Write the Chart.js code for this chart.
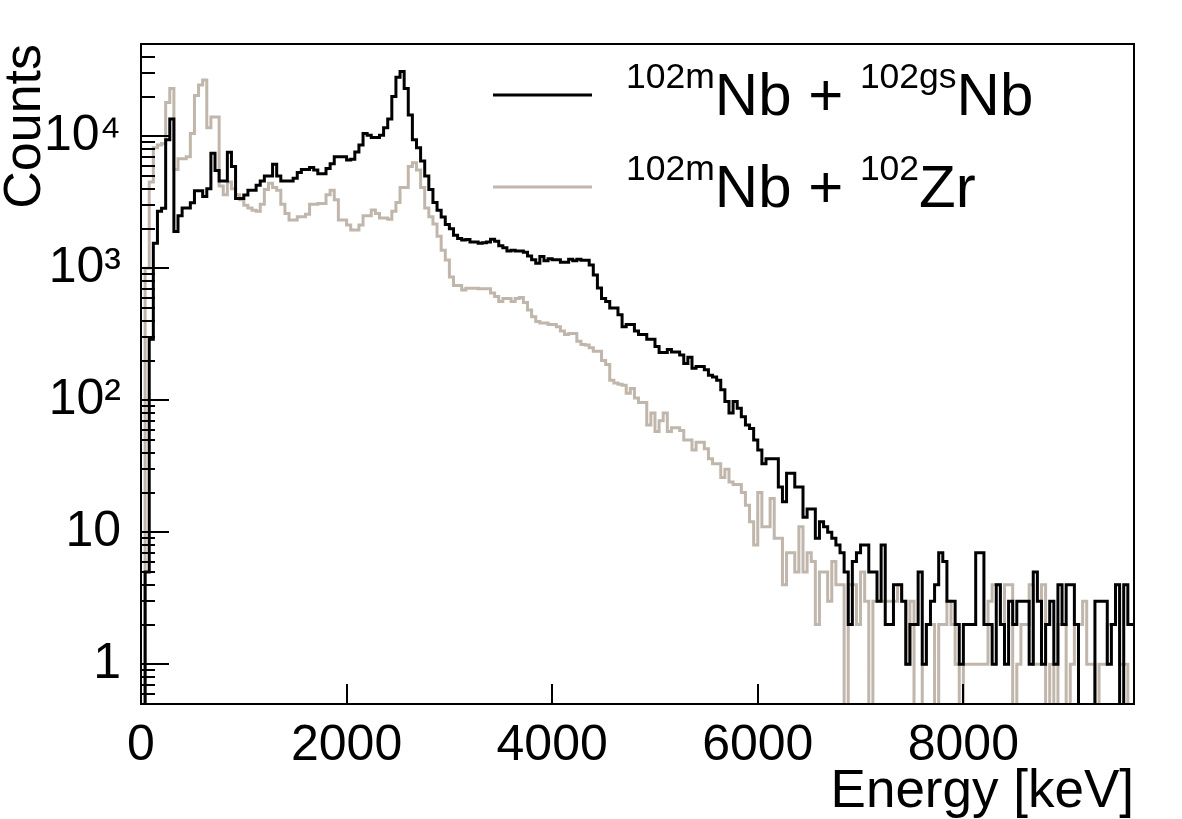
<!DOCTYPE html>
<html>
<head>
<meta charset="utf-8">
<script src="https://cdn.jsdelivr.net/npm/chart.js@4.4.1/dist/chart.umd.min.js"></script>
<style>
  html, body { margin: 0; padding: 0; background: #ffffff; }
  #wrap { width: 1182px; height: 819px; }
</style>
</head>
<body>
<div id="wrap"><canvas id="chart" width="1182" height="819"></canvas></div>
<script>
// ---------------- data ----------------
const BIN_WIDTH = 40;                 // keV per histogram bin
const energyRange = [0, 9660];        // keV shown on the x axis
const countsRange = [0.5, 50000];     // counts shown on the log y axis
const xTickValues = [0, 2000, 4000, 6000, 8000];
const yTickValues = [1, 10, 100, 1000, 10000];
const yTickLabels = ['1', '10', '10\u00B2', '10\u00B3', '10\u2074'];
const seriesLabels = ['102mNb + 102gsNb', '102mNb + 102Zr'];

// counts per 40 keV bin, starting at 0 keV
const countsNbGs = [
  0,5,290,1550,2700,2850,9400,13500,1900,2500,
  2860,2860,3140,3870,3870,3500,4000,7450,5500,4590,
  4590,7580,5900,3380,3380,3590,3900,3900,4250,4590,
  5000,5000,6140,5000,4590,4590,4590,4800,5310,5590,
  5590,5800,5550,5200,5200,5700,6200,7000,7000,7000,
  6600,6700,7600,8600,10500,10200,9800,9800,10200,11600,
  13500,20000,28000,31000,23000,14500,9400,8200,6500,5000,
  3950,3150,2750,2450,2150,1990,1780,1680,1640,1650,
  1580,1580,1550,1560,1580,1660,1600,1480,1430,1350,
  1370,1350,1350,1320,1240,1160,1090,1230,1140,1180,
  1160,1160,1110,1110,1170,1140,1170,1150,1150,1060,
  890,710,590,560,500,500,445,360,375,375,
  335,315,315,290,290,255,230,230,242,232,
  232,220,190,212,175,180,180,170,155,150,
  142,120,98,80,98,87,75,65,61,50,
  42,33,36,36,36,22,17,28,28,22,
  22,13,15,15,9,12,11,10,9,8,
  7,5,2,6,7,8,8,5,5,3,
  8,2,2,4,4,3,1,2,2,5,
  1,2,3,4,7,6,3,3,2,1,
  2,2,2,7,7,2,2,1,4,2,
  1,3,2,3,3,3,1,5,3,1,
  2,3,1,4,2,4,4,2,0,0,
  0,0,3,3,3,1,2,4,0,4,2,2
];
const countsZr = [
  0,1000,4500,8200,8600,8800,18000,23000,5600,6750,
  6750,7000,10500,20400,24500,26700,11600,14000,14000,4200,
  3600,4500,4000,3600,3300,3000,2860,2750,2700,3050,
  3950,4400,4100,3900,3050,2600,2320,2320,2460,2460,
  2570,3050,3050,3100,3100,3600,3900,3300,2320,2320,
  2130,1950,1950,2130,2500,2500,2760,2600,2400,2400,
  2350,2700,3150,4100,4100,5900,6300,5550,4100,2860,
  2460,2160,1750,1370,1155,860,740,740,685,705,
  705,705,700,700,700,650,610,560,590,590,
  560,590,600,550,483,430,395,385,385,375,
  375,360,335,315,320,320,280,265,262,250,
  235,235,200,187,142,135,132,130,113,123,
  104,96,96,65,80,58,70,80,58,62,
  62,59,50,50,42,48,48,43,36,33,
  33,26,30,24,23,23,20,16,12,8,
  20,11,11,18,9,9,4,7,7,5,
  11,5,7,6,2,5,5,3,6,4,
  4,0,4,4,2,5,3,0,3,3,
  3,3,3,3,4,3,1,3,0,0,
  1,2,2,0,2,2,3,2,1,0,
  1,1,1,1,1,1,3,4,4,2,
  4,4,0,1,2,2,4,1,1,4,
  0,1,0,2,2,0,1,2,2,3,
  1,1,0,1,1,2,2,4,1,1,0,0
];

// ---------------- styling ----------------
const FONT = "'Liberation Sans', Arial, Helvetica, sans-serif";
const COLOR_NBGS = '#000000';
const COLOR_ZR = '#c0b6ab';

// histogram -> stepped points (low edge of each bin, plus closing high edge)
function toSteps(counts) {
  const floor = countsRange[0] * 0.5; // empty bins are drawn down to the frame
  const pts = counts.map((c, i) => ({ x: i * BIN_WIDTH, y: c > 0 ? c : floor }));
  const last = counts[counts.length - 1];
  pts.push({ x: counts.length * BIN_WIDTH, y: last > 0 ? last : floor });
  return pts;
}

function noScalePadding(s) {
  s.paddingTop = 0; s.paddingBottom = 0; s.paddingLeft = 0; s.paddingRight = 0;
}

// frame + ROOT-style inward tick marks
const frameTicks = {
  id: 'frameTicks',
  afterDatasetsDraw(chart) {
    const { ctx, chartArea: a, scales: { x, y } } = chart;
    ctx.save();
    ctx.strokeStyle = '#000';
    ctx.lineWidth = 2;
    ctx.beginPath();
    for (let e = -1; e <= 4; e++) {
      for (let m = 1; m <= 9; m++) {
        const v = m * Math.pow(10, e);
        if (v < y.min - 1e-9 || v > y.max + 1e-9) continue;
        const py = Math.round(y.getPixelForValue(v));
        ctx.moveTo(a.left, py);
        ctx.lineTo(a.left + (m === 1 ? 28 : 14), py);
      }
    }
    for (const t of x.ticks) {
      const px = Math.round(x.getPixelForValue(t.value));
      ctx.moveTo(px, a.bottom);
      ctx.lineTo(px, a.bottom - 20);
    }
    ctx.stroke();
    ctx.strokeRect(a.left, a.top, a.right - a.left, a.bottom - a.top);
    ctx.restore();
  }
};

// legend with superscripted isotope names
const legendRows = [
  { color: COLOR_NBGS, parts: [['102m', 1], ['Nb + ', 0], ['102gs', 1], ['Nb', 0]] },
  { color: COLOR_ZR,   parts: [['102m', 1], ['Nb + ', 0], ['102', 1], ['Zr', 0]] }
];
const rootLegend = {
  id: 'rootLegend',
  afterDraw(chart) {
    const ctx = chart.ctx;
    const lineX0 = 493, lineX1 = 592, textX = 626;
    const rowY = [95, 187];          // centre of the sample line
    const mainSize = 60, supSize = 35.5;
    ctx.save();
    legendRows.forEach((row, r) => {
      const yc = rowY[r];
      ctx.strokeStyle = row.color;
      ctx.lineWidth = 3;
      ctx.beginPath();
      ctx.moveTo(lineX0, yc);
      ctx.lineTo(lineX1, yc);
      ctx.stroke();
      let xx = textX;
      ctx.fillStyle = '#000';
      ctx.textBaseline = 'alphabetic';
      ctx.textAlign = 'left';
      row.parts.forEach(([txt, sup]) => {
        ctx.font = (sup ? supSize : mainSize) + 'px ' + FONT;
        const base = sup ? yc - 7 : yc + 20;
        ctx.fillText(txt, xx, base);
        xx += ctx.measureText(txt).width;
      });
    });
    ctx.restore();
  }
};

new Chart(document.getElementById('chart'), {
  type: 'line',
  data: {
    datasets: [
      { label: seriesLabels[0], data: toSteps(countsNbGs), borderColor: COLOR_NBGS,
        borderWidth: 3, stepped: true, pointRadius: 0, fill: false, clip: 0 },
      { label: seriesLabels[1], data: toSteps(countsZr), borderColor: COLOR_ZR,
        borderWidth: 3, stepped: true, pointRadius: 0, fill: false, clip: 0 }
    ]
  },
  options: {
    responsive: false,
    animation: false,
    devicePixelRatio: 1,
    layout: { padding: { top: 44, right: 48, bottom: 0, left: 0 } },
    plugins: { legend: { display: false }, tooltip: { enabled: false } },
    scales: {
      x: {
        type: 'linear',
        min: energyRange[0], max: energyRange[1],
        afterBuildTicks: s => { s.ticks = xTickValues.map(v => ({ value: v })); },
        afterFit: s => { s.height = 115; noScalePadding(s); },
        grid: { display: false, drawTicks: false },
        border: { display: false },
        ticks: { autoSkip: false, maxRotation: 0, padding: 12, color: '#000',
                 font: { family: FONT, size: 50 }, callback: v => String(v) },
        title: { display: true, text: 'Energy [keV]', align: 'end', color: '#000',
                 font: { family: FONT, size: 53, lineHeight: 1.0 }, padding: { top: 0, bottom: 0 } }
      },
      y: {
        type: 'logarithmic',
        min: countsRange[0], max: countsRange[1],
        afterBuildTicks: s => { s.ticks = yTickValues.map(v => ({ value: v, major: true })); },
        afterFit: s => { s.width = 141; noScalePadding(s); },
        grid: { display: false, drawTicks: false },
        border: { display: false },
        ticks: { autoSkip: false, padding: 20, color: '#000',
                 font: { family: FONT, size: 50 },
                 callback: v => yTickLabels[yTickValues.indexOf(v)] },
        title: { display: true, text: 'Counts', align: 'end', color: '#000',
                 font: { family: FONT, size: 52, lineHeight: 1.0 }, padding: { top: 0, bottom: 0 } }
      }
    }
  },
  plugins: [frameTicks, rootLegend]
});
</script>
</body>
</html>
